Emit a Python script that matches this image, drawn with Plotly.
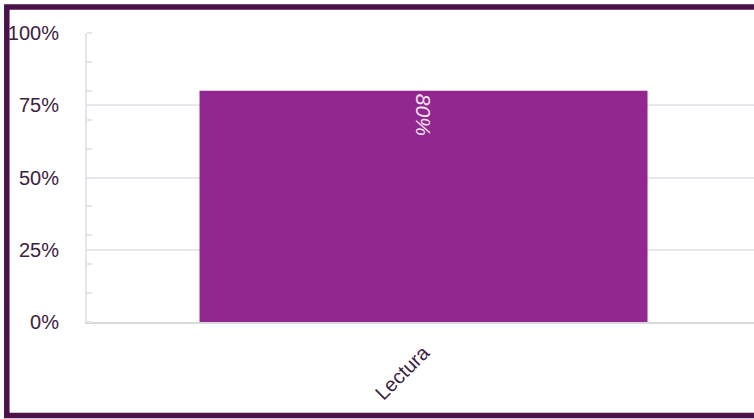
import plotly.graph_objects as go

categories = ["Lectura"]
values = [0.80]
y_ticks = [0, 0.25, 0.5, 0.75, 1.0]
y_tick_labels = ["0%", "25%", "50%", "75%", "100%"]

W, H = 754, 419
L, R, T, B = 87, 0, 33, 97
pw, ph = W - L - R, H - T - B

def px_x(p):
    return (p - L) / pw

def px_y(p):
    return (H - B - p) / ph

x_hi = 0.491
bar_w = 448 * (0.5 + x_hi) / pw

fig = go.Figure(
    go.Bar(
        x=categories,
        y=values,
        width=bar_w,
        marker=dict(color="#92278f", line=dict(width=0)),
        texttemplate="%{y:.0%}",
        textposition="inside",
        insidetextanchor="end",
        textangle=90,
        textfont=dict(family="Liberation Sans", size=21, color="#f3e6f3", style="italic"),
        hoverinfo="skip",
    )
)

fig.update_layout(
    width=W,
    height=H,
    margin=dict(l=L, r=R, t=T, b=B, pad=0),
    paper_bgcolor="white",
    plot_bgcolor="white",
    showlegend=False,
    font=dict(family="Liberation Sans", size=20, color="#3b2140"),
    xaxis=dict(
        range=[-0.5, x_hi],
        showgrid=False,
        showline=True,
        linecolor="#d9d9d9",
        linewidth=2,
        tickangle=-45,
        ticks="",
        ticklabelstandoff=9,
        tickfont=dict(size=20, color="#3b2140"),
        fixedrange=True,
    ),
    yaxis=dict(
        range=[0, 1],
        tickvals=y_ticks,
        ticktext=y_tick_labels,
        showgrid=True,
        gridcolor="#ebe5ee",
        gridwidth=2,
        zeroline=False,
        showline=True,
        linecolor="#e8e3ea",
        linewidth=2,
        ticks="",
        ticklabelstandoff=22,
        tickfont=dict(size=20, color="#3b2140"),
        minor=dict(dtick=0.1, tick0=0, ticks="inside", ticklen=5, tickcolor="#e8e3ea", tickwidth=2, showgrid=False),
        fixedrange=True,
    ),
    shapes=[
        dict(
            type="rect",
            xref="paper",
            yref="paper",
            x0=px_x(6.8),
            x1=px_x(W + 20),
            y0=px_y(415.5),
            y1=px_y(7),
            line=dict(color="#4a1248", width=5.5),
            fillcolor="rgba(0,0,0,0)",
            layer="above",
        )
    ],
)

fig.write_html(
    "out.html",
    config={"displayModeBar": False},
    post_script="document.body.style.margin='0';document.body.style.overflow='hidden';",
)
